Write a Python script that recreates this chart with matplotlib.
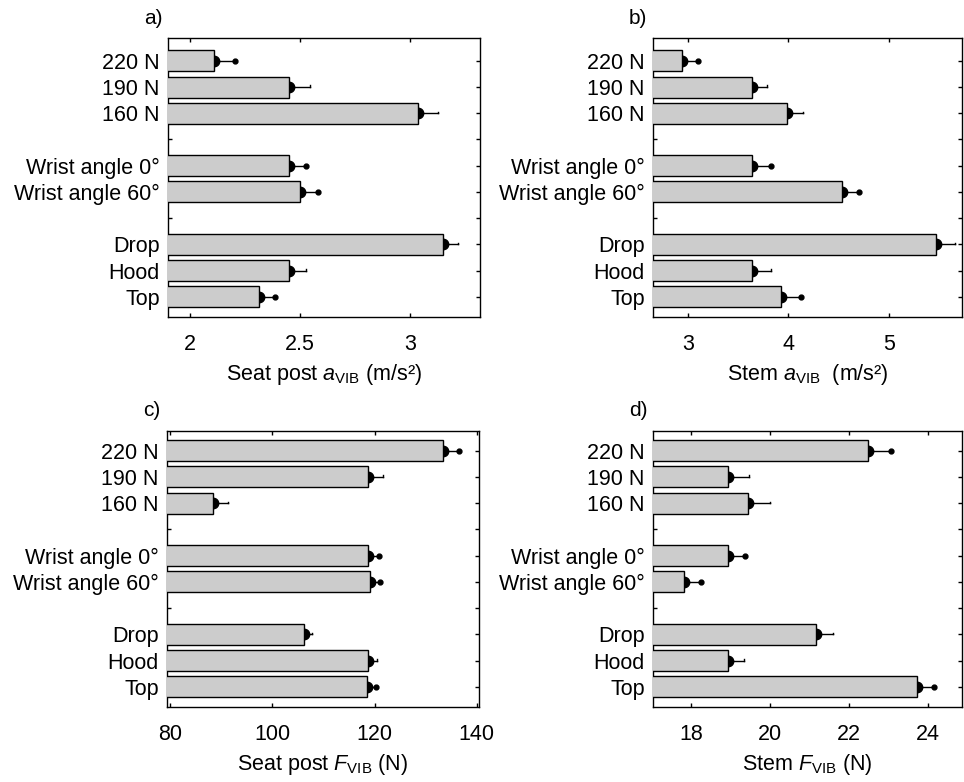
import numpy as np
import matplotlib
matplotlib.use('Agg')
import matplotlib.pyplot as plt

plt.rcParams['font.family'] = ['Liberation Sans', 'DejaVu Sans']
plt.rcParams['mathtext.fontset'] = 'custom'
plt.rcParams['mathtext.rm'] = 'Liberation Sans'
plt.rcParams['mathtext.it'] = 'Liberation Sans:italic'

# Data
conditions = ['220 N', '190 N', '160 N', 'Wrist angle 0°', 'Wrist angle 60°',
              'Drop', 'Hood', 'Top']
groups = [3, 2, 3]  # handle force / wrist angle / hand position

seat_a_mean = [2.11, 2.45, 3.04, 2.45, 2.50, 3.15, 2.45, 2.315]
seat_a_err = [0.095, 0.095, 0.09, 0.08, 0.083, 0.07, 0.08, 0.07]
stem_a_mean = [2.94, 3.64, 3.99, 3.64, 4.53, 5.467, 3.64, 3.923]
stem_a_err = [0.157, 0.15, 0.157, 0.19, 0.177, 0.19, 0.183, 0.2]
seat_f_mean = [133.4, 118.8, 88.3, 118.8, 119.1, 106.1, 118.8, 118.5]
seat_f_err = [3.2, 2.9, 3.0, 2.0, 2.0, 1.6, 1.6, 1.8]
stem_f_mean = [22.49, 18.93, 19.44, 18.93, 17.82, 21.17, 18.93, 23.72]
stem_f_err = [0.57, 0.55, 0.56, 0.43, 0.43, 0.44, 0.42, 0.44]
# error bars that end with a dot
err_dot = [True, False, False, True, True, False, False, True]

# row positions with an empty slot between groups
rows = []
pos = 0
for g in groups:
    rows += list(range(pos, pos + g))
    pos += g + 1
n_slots = pos - 1
tick_labels = [''] * n_slots
for r, c in zip(rows, conditions):
    tick_labels[r] = c

panels = [
    ('a)', seat_a_mean, seat_a_err, (1.9, 3.32), [2, 2.5, 3], ['2', '2.5', '3'],
     r'Seat post $a_{\mathrm{VIB}}$ (m/s²)', [168, 38, 480, 317]),
    ('b)', stem_a_mean, stem_a_err, (2.65, 5.73), [3, 4, 5], ['3', '4', '5'],
     r'Stem $a_{\mathrm{VIB}}$  (m/s²)', [653, 38, 962, 317]),
    ('c)', seat_f_mean, seat_f_err, (79.35, 140.46), [80, 100, 120, 140],
     ['80', '100', '120', '140'], r'Seat post $F_{\mathrm{VIB}}$ (N)', [167, 431, 479, 707]),
    ('d)', stem_f_mean, stem_f_err, (17.04, 24.87), [18, 20, 22, 24],
     ['18', '20', '22', '24'], r'Stem $F_{\mathrm{VIB}}$ (N)', [653, 431, 962, 707]),
]

W, H = 964, 782
fig = plt.figure(figsize=(W / 100, H / 100), dpi=100)

for label, mean, err, xlim, xt, xtl, xlabel, box in panels:
    x0, y0, x1, y1 = box
    ax = fig.add_axes([x0 / W, 1 - y1 / H, (x1 - x0) / W, (y1 - y0) / H])
    ax.set_axisbelow(True)
    ax.barh(rows, mean, height=0.8, color='#cccccc', edgecolor='black',
            linewidth=1, zorder=3)
    # dot at the mean, half hidden by the bar
    ax.plot(mean, rows, 'o', color='black', ms=7.5, zorder=2)
    for r, m, e, d in zip(rows, mean, err, err_dot):
        ax.plot([m, m + e], [r, r], color='black', lw=1, zorder=2)
        if d:
            ax.plot(m + e, r, 'o', color='black', ms=3.5, zorder=2)
        else:
            ax.plot([m + e, m + e], [r - 0.06, r], color='black', lw=1, zorder=2)
    ax.set_xlim(*xlim)
    top_pad = 0.87 if y0 < 100 else 0.75
    ax.set_ylim(n_slots - 1 + 0.77, -top_pad)
    ax.set_xticks(xt)
    ax.set_xticklabels(xtl, fontsize=15.5)
    ax.set_yticks(range(n_slots))
    ax.set_yticklabels(tick_labels, fontsize=15.5)
    ax.tick_params(direction='in', length=3, width=1, top=True, right=True,
                   pad=6)
    ax.tick_params(axis='x', pad=12)
    ax.set_xlabel(xlabel, fontsize=15.5, labelpad=5)
    for s in ax.spines.values():
        s.set_linewidth(1)
    fig.text((x0 - 15) / W, 1 - (y0 - 20) / H, label, fontsize=15,
             ha='center', va='center')

fig.savefig('out.png', dpi=100)
